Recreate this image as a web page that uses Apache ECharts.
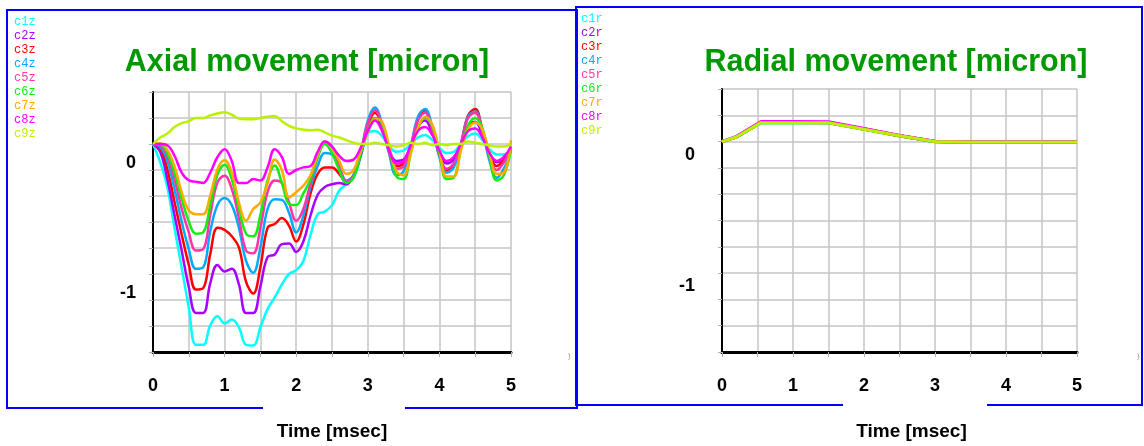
<!DOCTYPE html>
<html>
<head>
<meta charset="utf-8">
<script src="https://cdn.jsdelivr.net/npm/echarts@6/dist/echarts.min.js"></script>
<style>
  html, body { margin: 0; padding: 0; background: #fff; }
  #chart { width: 1144px; height: 446px; }
</style>
</head>
<body>
<div id="chart"></div>
<script>
// time axis (msec)
const times = [0, 0.1, 0.2, 0.3, 0.4, 0.5, 0.6, 0.7, 0.8, 0.9,
  1.0, 1.1, 1.2, 1.3, 1.4, 1.5, 1.6, 1.7, 1.8, 1.9,
  2.0, 2.1, 2.2, 2.3, 2.4, 2.5, 2.6, 2.7, 2.8, 2.9,
  3.0, 3.1, 3.2, 3.3, 3.4, 3.5, 3.6, 3.7, 3.8, 3.9,
  4.0, 4.1, 4.2, 4.3, 4.4, 4.5, 4.6, 4.7, 4.8, 4.9, 5.0];

// axial movement [micron]
const c1z = [0, -0.14, -0.33, -0.645, -0.95, -1.26, -1.545, -1.545, -1.395, -1.325,
  -1.38, -1.35, -1.41, -1.545, -1.55, -1.41, -1.27, -1.18, -1.08, -1.0,
  -0.97, -0.9, -0.7, -0.54, -0.52, -0.47, -0.36, -0.31, -0.26, -0.1,
  0.08, 0.1, 0.06, -0.02, -0.06, -0.05, 0.0, 0.05, 0.07, 0.03,
  -0.03, -0.07, -0.06, 0.0, 0.06, 0.08, 0.03, -0.04, -0.08, -0.08, -0.05];
const c2z = [0, -0.06, -0.27, -0.545, -0.82, -1.1, -1.3, -1.3, -1.07, -0.93,
  -0.98, -0.96, -1.08, -1.3, -1.3, -1.095, -0.87, -0.85, -0.77, -0.765,
  -0.83, -0.75, -0.55, -0.39, -0.33, -0.31, -0.3, -0.31, -0.24, -0.09,
  0.12, 0.2, 0.11, -0.05, -0.13, -0.12, -0.01, 0.13, 0.18, 0.08,
  -0.06, -0.15, -0.12, 0.0, 0.14, 0.17, 0.07, -0.07, -0.14, -0.11, -0.04];
const c3z = [0, -0.03, -0.195, -0.445, -0.695, -0.93, -1.12, -1.11, -0.845, -0.645,
  -0.66, -0.71, -0.795, -1.06, -1.15, -0.945, -0.645, -0.615, -0.57, -0.63,
  -0.75, -0.62, -0.38, -0.23, -0.18, -0.18, -0.23, -0.29, -0.25, -0.08,
  0.14, 0.24, 0.14, -0.06, -0.17, -0.15, -0.02, 0.19, 0.26, 0.12,
  -0.09, -0.2, -0.16, 0.0, 0.22, 0.27, 0.11, -0.08, -0.17, -0.12, -0.04];
const c4z = [0, -0.02, -0.13, -0.345, -0.595, -0.81, -0.96, -0.95, -0.67, -0.47,
  -0.415, -0.47, -0.645, -0.9, -0.99, -0.795, -0.5, -0.425, -0.43, -0.53,
  -0.68, -0.55, -0.33, -0.17, -0.07, -0.08, -0.17, -0.28, -0.24, -0.07,
  0.18, 0.28, 0.15, -0.08, -0.24, -0.21, -0.02, 0.21, 0.27, 0.13,
  -0.1, -0.22, -0.18, 0.0, 0.21, 0.25, 0.1, -0.13, -0.26, -0.19, -0.05];
const c5z = [0, -0.01, -0.095, -0.27, -0.495, -0.68, -0.82, -0.81, -0.545, -0.295,
  -0.245, -0.345, -0.57, -0.82, -0.84, -0.645, -0.37, -0.28, -0.3, -0.45,
  -0.59, -0.5, -0.3, -0.1, 0.02, -0.02, -0.17, -0.29, -0.25, -0.07,
  0.16, 0.26, 0.14, -0.07, -0.19, -0.17, -0.02, 0.18, 0.24, 0.11,
  -0.08, -0.19, -0.15, 0.0, 0.2, 0.24, 0.1, -0.1, -0.2, -0.14, -0.03];
const c6z = [0, 0, -0.07, -0.22, -0.42, -0.595, -0.69, -0.68, -0.47, -0.235,
  -0.16, -0.27, -0.495, -0.69, -0.71, -0.545, -0.28, -0.165, -0.3, -0.46,
  -0.47, -0.38, -0.27, -0.1, 0.0, -0.07, -0.2, -0.3, -0.26, -0.08,
  0.1, 0.2, 0.16, -0.04, -0.25, -0.27, -0.07, 0.12, 0.2, 0.14,
  -0.07, -0.27, -0.26, -0.04, 0.14, 0.2, 0.12, -0.1, -0.28, -0.24, -0.04];
const c7z = [0, 0.005, -0.045, -0.17, -0.37, -0.51, -0.54, -0.54, -0.395, -0.195,
  -0.125, -0.22, -0.45, -0.59, -0.5, -0.45, -0.3, -0.12, -0.2, -0.41,
  -0.37, -0.32, -0.24, -0.08, 0.02, -0.03, -0.13, -0.23, -0.2, -0.05,
  0.09, 0.19, 0.17, -0.02, -0.21, -0.24, -0.07, 0.12, 0.21, 0.15,
  -0.05, -0.25, -0.25, -0.05, 0.11, 0.165, 0.11, -0.07, -0.23, -0.22, 0.03];
const c8z = [0, 0.0, -0.01, -0.09, -0.22, -0.28, -0.29, -0.3, -0.22, -0.1,
  -0.04, -0.13, -0.3, -0.3, -0.27, -0.28, -0.18, -0.04, -0.1, -0.23,
  -0.2, -0.18, -0.17, -0.06, 0.02, -0.02, -0.09, -0.13, -0.12, -0.03,
  0.1, 0.18, 0.1, -0.05, -0.15, -0.13, -0.01, 0.1, 0.13, 0.07,
  -0.05, -0.13, -0.1, 0.0, 0.1, 0.12, 0.05, -0.07, -0.13, -0.1, -0.02];
const c9z = [0, 0.05, 0.08, 0.13, 0.16, 0.175, 0.2, 0.2, 0.22, 0.235,
  0.245, 0.225, 0.195, 0.19, 0.19, 0.2, 0.21, 0.215, 0.175, 0.14,
  0.12, 0.11, 0.105, 0.11, 0.09, 0.065, 0.05, 0.03, 0.01, 0.0,
  0.0, 0.01, 0.0, -0.01, -0.02, -0.01, 0.01, 0.0, 0.01, -0.01,
  0.0, -0.01, 0.0, 0.0, 0.02, 0.01, 0.0, -0.01, -0.02, -0.02, 0.0];

// radial movement [micron]
const radialTimes = [0, 0.2, 0.55, 1.0, 1.5, 2.0, 2.5, 3.0, 3.5, 4.0, 4.5, 5.0];
const c1r = [0, 0.035, 0.145, 0.145, 0.145, 0.095, 0.045, 0.0, -0.003, -0.003, -0.003, -0.003];
const c2r = [0, 0.036, 0.146, 0.146, 0.145, 0.096, 0.045, 0.0, -0.003, -0.003, -0.003, -0.003];
const c3r = [0, 0.035, 0.145, 0.145, 0.144, 0.095, 0.044, 0.0, -0.004, -0.004, -0.004, -0.004];
const c4r = [0, 0.034, 0.144, 0.145, 0.144, 0.094, 0.044, -0.001, -0.002, -0.002, -0.002, -0.002];
const c5r = [0, 0.036, 0.147, 0.147, 0.146, 0.097, 0.046, 0.001, -0.003, -0.003, -0.003, -0.003];
const c6r = [0, 0.034, 0.143, 0.144, 0.143, 0.093, 0.043, -0.001, -0.003, -0.003, -0.003, -0.003];
const c7r = [0, 0.035, 0.145, 0.145, 0.145, 0.095, 0.045, 0.0, -0.004, -0.004, -0.004, -0.004];
const c8r = [0, 0.038, 0.152, 0.152, 0.151, 0.099, 0.047, 0.002, -0.002, -0.002, -0.002, -0.002];
const c9r = [0, 0.035, 0.144, 0.144, 0.144, 0.094, 0.044, 0.0, -0.003, -0.003, -0.003, -0.003];

const colors = ['#00ffff', '#aa00ff', '#ff0000', '#00aaff', '#ff33aa', '#11ee11', '#ffaa00', '#ff00ff', '#bbf000'];
const axialNames = ['c1z', 'c2z', 'c3z', 'c4z', 'c5z', 'c6z', 'c7z', 'c8z', 'c9z'];
const radialNames = ['c1r', 'c2r', 'c3r', 'c4r', 'c5r', 'c6r', 'c7r', 'c8r', 'c9r'];
const axialData = [c1z, c2z, c3z, c4z, c5z, c6z, c7z, c8z, c9z];
const radialData = [c1r, c2r, c3r, c4r, c5r, c6r, c7r, c8r, c9r];

const chart = echarts.init(document.getElementById('chart'));
const font = '"Liberation Sans", Arial, sans-serif';
const blue = '#0000ff';

function xAxisD(gridIndex, namePad) {
  return {
    type: 'value',
    gridIndex: gridIndex,
    min: 0,
    max: 5,
    interval: 0.5,
    name: 'Time [msec]',
    nameLocation: 'middle',
    nameGap: 70,
    nameTextStyle: { fontFamily: font, fontWeight: 'bold', fontSize: 19, color: '#000', padding: namePad },
    axisLine: { onZero: false, lineStyle: { color: '#000', width: 3 } },
    axisTick: { show: true, length: 5, lineStyle: { color: '#b0b0b0', width: 1 } },
    axisLabel: {
      margin: 25,
      fontFamily: font, fontWeight: 'bold', fontSize: 18, color: '#000',
      formatter: function (v) {
        const r = Math.round(v * 10) / 10;
        return Number.isInteger(r) ? String(r) : '';
      }
    },
    splitLine: { show: true, lineStyle: { color: '#c4c4c4', width: 1.5 } }
  };
}

// labels sit below their gridline in the original, so push them down with lineHeight
function yAxisD(gridIndex, margin, lh) {
  return {
    type: 'value',
    gridIndex: gridIndex,
    min: -1.6,
    max: 0.4,
    interval: 0.2,
    axisLine: { show: true, onZero: false, lineStyle: { color: '#000', width: 2 } },
    axisTick: { show: true, length: 4, lineStyle: { color: '#b0b0b0', width: 1 } },
    axisLabel: {
      margin: margin,
      verticalAlign: 'top',
      lineHeight: lh,
      fontFamily: font, fontWeight: 'bold', fontSize: 18, color: '#000',
      formatter: function (v) {
        if (Math.abs(v) < 1e-6) return '0';
        if (Math.abs(v + 1) < 1e-6) return '-1';
        return '';
      }
    },
    splitLine: { show: true, lineStyle: { color: '#c4c4c4', width: 1.5 } }
  };
}

function legendD(names, left, top) {
  return {
    orient: 'vertical',
    left: left,
    top: top,
    icon: 'none',
    itemWidth: 0,
    itemHeight: 12,
    itemGap: 2,
    selectedMode: false,
    textStyle: { fontFamily: '"Liberation Mono", "Courier New", monospace', fontSize: 12 },
    data: names.map((n, i) => ({ name: n, textStyle: { color: colors[i] } }))
  };
}

const series = [];
axialNames.forEach((n, i) => {
  series.push({
    name: n,
    type: 'line',
    xAxisIndex: 0,
    yAxisIndex: 0,
    smooth: 0.4,
    showSymbol: false,
    lineStyle: { width: 2.5, color: colors[i] },
    itemStyle: { color: colors[i] },
    data: times.map((t, k) => [t, axialData[i][k]])
  });
});
radialNames.forEach((n, i) => {
  series.push({
    name: n,
    type: 'line',
    xAxisIndex: 1,
    yAxisIndex: 1,
    showSymbol: false,
    lineStyle: { width: 3, color: colors[i] },
    itemStyle: { color: colors[i] },
    data: radialTimes.map((t, k) => [t, radialData[i][k]])
  });
});

chart.setOption({
  animation: false,
  backgroundColor: '#fff',
  title: [
    {
      text: 'Axial movement [micron]',
      left: 302, top: 42, textAlign: 'center',
      textStyle: { fontFamily: font, fontWeight: 'bold', fontSize: 30.5, color: '#009900' }
    },
    {
      text: 'Radial movement [micron]',
      left: 891, top: 42, textAlign: 'center',
      textStyle: { fontFamily: font, fontWeight: 'bold', fontSize: 30.5, color: '#009900' }
    }
  ],
  legend: [legendD(axialNames, 4, 11), legendD(radialNames, 571, 8)],
  grid: [
    { left: 153, top: 92, width: 358, height: 266 },
    { left: 722, top: 89, width: 355, height: 268 }
  ],
  xAxis: [xAxisD(0, [0, 0, 0, 0]), xAxisD(1, [0, 0, 0, 24])],
  yAxis: [yAxisD(0, 17, 39), yAxisD(1, 27, 26)],
  graphic: [
    {
      type: 'polyline',
      shape: { points: [[263, 408], [7, 408], [7, 10], [577, 10], [577, 408], [405, 408]] },
      style: { stroke: blue, lineWidth: 2, fill: null }
    },
    {
      type: 'polyline',
      shape: { points: [[843, 405], [576, 405], [576, 7], [1142, 7], [1142, 405], [987, 405]] },
      style: { stroke: blue, lineWidth: 2, fill: null }
    },
    { type: 'text', left: 568, top: 352, style: { text: ')', fontSize: 8, fill: '#999' } },
    { type: 'text', left: 1137, top: 352, style: { text: ')', fontSize: 8, fill: '#999' } }
  ],
  series: series
});
</script>
</body>
</html>
